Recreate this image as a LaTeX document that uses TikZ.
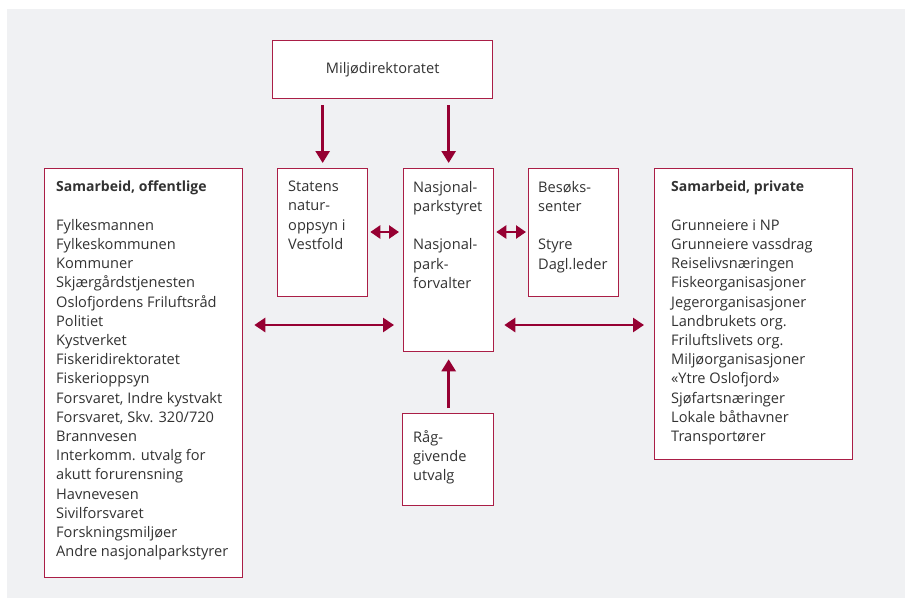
\documentclass[tikz,border=0pt]{standalone}
\usepackage{fontspec}
\setmainfont{Open Sans}
\usetikzlibrary{arrows.meta,calc}
\definecolor{bg}{RGB}{240,241,243}
\definecolor{frame}{RGB}{170,30,70}
\definecolor{arr}{RGB}{150,0,50}
\definecolor{ink}{RGB}{50,50,50}
\newcommand{\hdr}[1]{{\fontsize{14}{19.2}\selectfont\bfseries #1}}
\begin{document}
\begin{tikzpicture}[x=1pt,y=-1pt,
  box/.style={draw=frame,line width=1.3pt,fill=white,inner sep=0pt,anchor=north west},
  txt/.style={anchor=north west,inner sep=0pt,align=left,text=ink,font=\fontsize{14.6}{19.2}\selectfont},
  arrowline/.style={draw=arr,line width=2.7pt},
  one/.style={arrowline,-{Triangle[length=12pt,width=14pt]}},
  two/.style={arrowline,{Triangle[length=10pt,width=13pt]}-{Triangle[length=10pt,width=13pt]}},
  twolong/.style={arrowline,{Triangle[length=11pt,width=14pt]}-{Triangle[length=11pt,width=14pt]}},
]
\fill[bg] (7,9) rectangle (905,598);
\useasboundingbox (0,0) rectangle (905,598);

% boxes
\node[box,minimum width=220pt,minimum height=58pt] (M) at (272,40) {};
\node[box,minimum width=90pt,minimum height=128pt] (S) at (277,168) {};
\node[box,minimum width=90pt,minimum height=183pt] (N) at (403,168) {};
\node[box,minimum width=90pt,minimum height=128pt] (B) at (528,168) {};
\node[box,minimum width=198pt,minimum height=409pt] (L) at (44,168) {};
\node[box,minimum width=198pt,minimum height=291pt] (R) at (654,168) {};
\node[box,minimum width=91pt,minimum height=92pt] (U) at (402,413) {};

% texts
\node[txt,anchor=center] (Mt) at (M.center) {Miljødirektoratet};
\node[txt] (St) at (288,181) {Statens\\natur-\\oppsyn i\\Vestfold};
\node[txt] (Nt) at (413,181) {Nasjonal-\\parkstyret\\\mbox{}\\Nasjonal-\\park-\\forvalter};
\node[txt] (Bt) at (538,181) {Besøks-\\senter\\\mbox{}\\Styre\\Dagl.leder};
\node[txt] (Ut) at (413,430) {Råg-\\givende\\utvalg};
\node[txt] (Lt) at (56,181) {\hdr{Samarbeid, offentlige}\\\mbox{}\\
Fylkesmannen\\Fylkeskommunen\\Kommuner\\Skjærgårdstjenesten\\Oslofjordens Friluftsråd\\
Politiet\\Kystverket\\Fiskeridirektoratet\\Fiskerioppsyn\\Forsvaret, Indre kystvakt\\
Forsvaret, Skv. 320/720\\Brannvesen\\Interkomm. utvalg for\\akutt forurensning\\
Havnevesen\\Sivilforsvaret\\Forskningsmiljøer\\Andre nasjonalparkstyrer};
\node[txt] (Rt) at (671,181) {\hdr{Samarbeid, private}\\\mbox{}\\
Grunneiere i NP\\Grunneiere vassdrag\\Reiselivsnæringen\\Fiskeorganisasjoner\\
Jegerorganisasjoner\\Landbrukets org.\\Friluftslivets org.\\Miljøorganisasjoner\\
«Ytre Oslofjord»\\Sjøfartsnæringer\\Lokale båthavner\\Transportører};

% connectors
\coordinate (ya) at (0,232);
\coordinate (yb) at (0,325);
\draw[one] ([yshift=-6pt]M.south -| S.north) -- ([yshift=5pt]S.north);
\draw[one] ([yshift=-6pt]M.south -| N.north) -- ([yshift=5pt]N.north);
\draw[two] ([xshift=2pt]S.east |- ya) -- ([xshift=-4pt]N.west |- ya);
\draw[two] ([xshift=2pt]N.east |- ya) -- ([xshift=-2pt]B.west |- ya);
\draw[twolong] ([xshift=11pt]L.east |- yb) -- ([xshift=-9pt]N.west |- yb);
\draw[twolong] ([xshift=10pt]N.east |- yb) -- ([xshift=-10pt]R.west |- yb);
\draw[one] ([yshift=5pt]U.north -| N.south) -- ([yshift=-7pt]N.south);
\end{tikzpicture}
\end{document}
